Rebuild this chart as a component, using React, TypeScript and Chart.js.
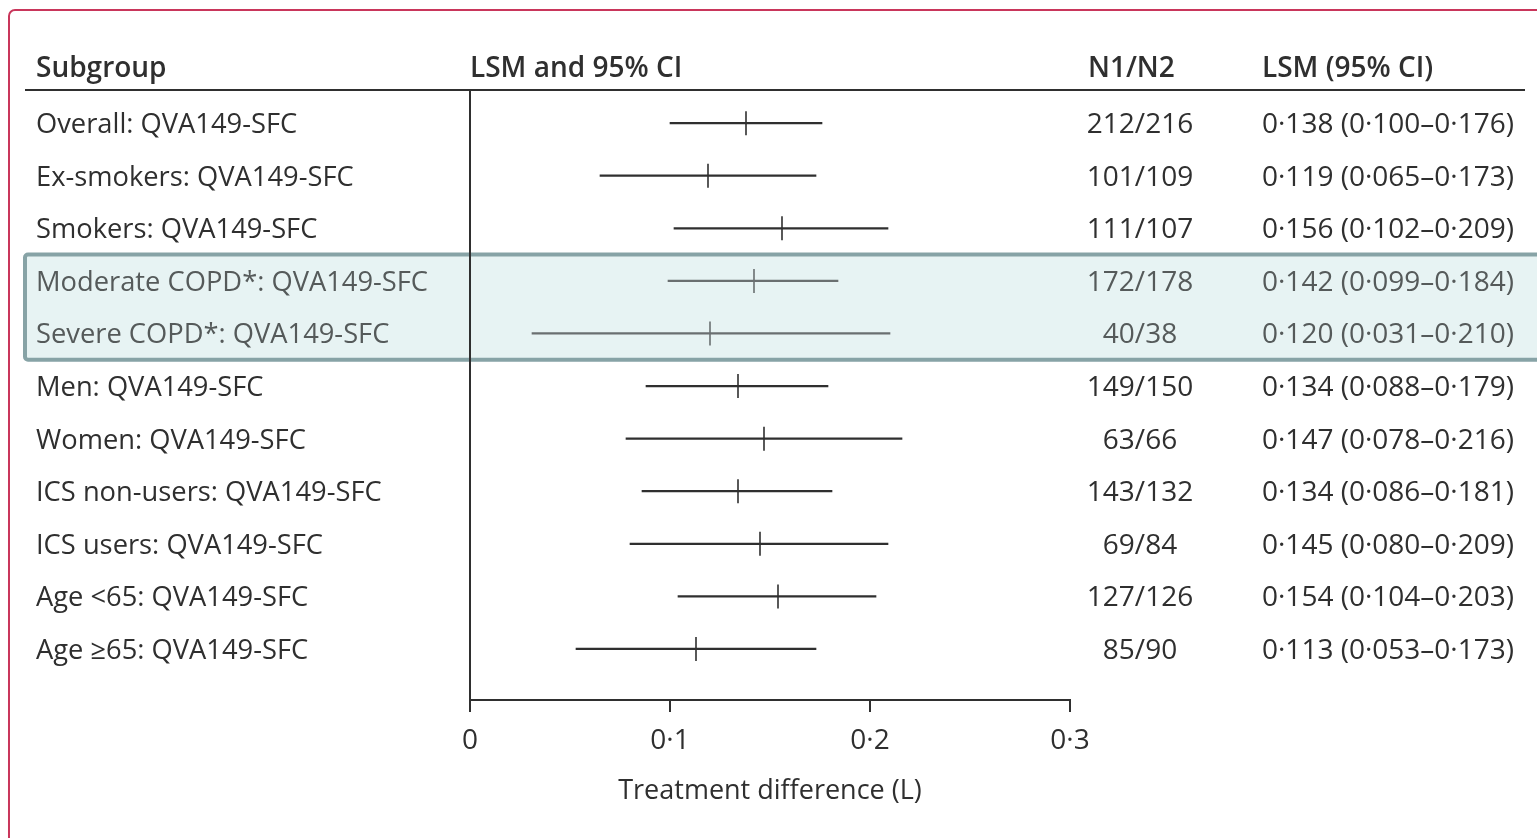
import { useEffect, useRef } from "react";
import { Chart, registerables } from "chart.js";

Chart.register(...registerables);

// Subgroup rows, top to bottom
const subgroups = [
  "Overall: QVA149-SFC",
  "Ex-smokers: QVA149-SFC",
  "Smokers: QVA149-SFC",
  "Moderate COPD*: QVA149-SFC",
  "Severe COPD*: QVA149-SFC",
  "Men: QVA149-SFC",
  "Women: QVA149-SFC",
  "ICS non-users: QVA149-SFC",
  "ICS users: QVA149-SFC",
  "Age <65: QVA149-SFC",
  "Age \u226565: QVA149-SFC",
];
const sampleSizes = [
  "212/216", "101/109", "111/107", "172/178", "40/38", "149/150",
  "63/66", "143/132", "69/84", "127/126", "85/90",
];
const lsm = [0.138, 0.119, 0.156, 0.142, 0.12, 0.134, 0.147, 0.134, 0.145, 0.154, 0.113];
const ciLow = [0.1, 0.065, 0.102, 0.099, 0.031, 0.088, 0.078, 0.086, 0.08, 0.104, 0.053];
const ciHigh = [0.176, 0.173, 0.209, 0.184, 0.21, 0.179, 0.216, 0.181, 0.209, 0.203, 0.173];
const xTicks = [0, 0.1, 0.2, 0.3];
const highlightedRows = [3, 4];
const headers = ["Subgroup", "LSM and 95% CI", "N1/N2", "LSM (95% CI)"];
const axisTitle = "Treatment difference (L)";

const FONT = "'Open Sans', sans-serif";
const INK = "#2f2f2f";
const SOFT_INK = "#555a5a";
const dot = (s: string) => s.replace(/\./g, "\u00b7");
const fmt3 = (v: number) => dot(v.toFixed(3));

const isHi = (i: number) => highlightedRows.includes(i);

const tablePlugin = {
  id: "forestTable",
  beforeDraw(chart: any) {
    const { ctx } = chart;
    const ys = chart.scales.y;
    ctx.save();
    // outer frame
    ctx.strokeStyle = "#c9365b";
    ctx.lineWidth = 2;
    ctx.beginPath();
    ctx.roundRect(9, 10, 1700, 1000, 6);
    ctx.stroke();
    // highlighted subgroup band
    const top = ys.getPixelForValue(highlightedRows[0] - 0.5);
    const bottom = ys.getPixelForValue(highlightedRows[highlightedRows.length - 1] + 0.5);
    ctx.fillStyle = "#e7f3f3";
    ctx.strokeStyle = "#87a3a6";
    ctx.lineWidth = 4;
    ctx.beginPath();
    ctx.roundRect(25, top, 1530, bottom - top, 3);
    ctx.fill();
    ctx.stroke();
    ctx.restore();
  },
  afterDraw(chart: any) {
    const { ctx } = chart;
    const ys = chart.scales.y;
    ctx.save();
    // header
    ctx.fillStyle = INK;
    ctx.font = `600 28px ${FONT}`;
    ctx.textBaseline = "alphabetic";
    ctx.textAlign = "left";
    ctx.fillText(headers[0], 36, 77);
    ctx.fillText(headers[1], 470, 77);
    ctx.fillText(headers[2], 1088, 77);
    ctx.fillText(headers[3], 1262, 77);
    ctx.strokeStyle = INK;
    ctx.lineWidth = 2;
    ctx.beginPath();
    ctx.moveTo(25, 90);
    ctx.lineTo(1525, 90);
    ctx.stroke();
    // rows
    subgroups.forEach((label, i) => {
      const y = ys.getPixelForValue(i) + 10;
      ctx.fillStyle = isHi(i) ? SOFT_INK : INK;
      ctx.font = `400 27.3px ${FONT}`;
      ctx.textAlign = "left";
      ctx.fillText(label, 36, y);
      ctx.font = `400 28px ${FONT}`;
      ctx.textAlign = "center";
      ctx.fillText(sampleSizes[i], 1140, y);
      ctx.textAlign = "left";
      ctx.fillText(`${fmt3(lsm[i])} (${fmt3(ciLow[i])}\u2013${fmt3(ciHigh[i])})`, 1262, y);
    });
    ctx.restore();
  },
};

export default function App() {
  const ref = useRef<HTMLCanvasElement | null>(null);

  useEffect(() => {
    if (!ref.current) return;
    const rowColors = subgroups.map((_, i) => (isHi(i) ? "#6a6f70" : INK));
    const chart = new Chart(ref.current, {
      data: {
        datasets: [
          {
            type: "bar",
            label: "95% CI",
            data: subgroups.map((_, i) => ({ y: i, x: [ciLow[i], ciHigh[i]] })) as any,
            backgroundColor: rowColors,
            borderWidth: 0,
            barThickness: 1.6,
          },
          {
            type: "scatter",
            label: "LSM",
            data: subgroups.map((_, i) => ({ x: lsm[i], y: i })),
            pointStyle: "line",
            rotation: 90,
            radius: 12,
            borderWidth: 1.6,
            borderColor: rowColors,
          },
        ],
      },
      options: {
        indexAxis: "y",
        responsive: false,
        animation: false,
        events: [],
        layout: { padding: { left: 470, right: 467, top: 90, bottom: 0 } },
        plugins: { legend: { display: false }, tooltip: { enabled: false } },
        scales: {
          x: {
            type: "linear",
            position: "bottom",
            min: 0,
            max: 0.3,
            afterFit: (s: any) => {
              s.height = 138;
            },
            afterBuildTicks: (s: any) => {
              s.ticks = xTicks.map((v) => ({ value: v }));
            },
            ticks: {
              color: INK,
              font: { family: FONT, size: 28 },
              padding: 12,
              maxRotation: 0,
              callback: (v: any) => (Number(v) === 0 ? "0" : dot(Number(v).toFixed(1))),
            },
            grid: {
              display: true,
              drawOnChartArea: false,
              drawTicks: true,
              tickLength: 12,
              color: INK,
              lineWidth: 2,
            },
            border: { display: true, color: INK, width: 2 },
            title: {
              display: true,
              text: axisTitle,
              color: INK,
              font: { family: FONT, size: 27 },
              padding: { top: 10, bottom: 30 },
            },
          },
          y: {
            type: "linear",
            reverse: true,
            offset: false,
            min: -0.63,
            max: 10.97,
            afterFit: (s: any) => {
              s.width = 0;
            },
            ticks: { display: false },
            grid: { display: false, drawTicks: false, offset: false },
            border: { display: true, color: INK, width: 2 },
          },
        },
      },
      plugins: [tablePlugin],
    });
    return () => chart.destroy();
  }, []);

  return (
    <div style={{ position: "fixed", left: 0, top: 0, width: 1537, height: 838, background: "#fff" }}>
      <canvas ref={ref} width={1537} height={838} style={{ display: "block", width: 1537, height: 838 }} />
    </div>
  );
}
